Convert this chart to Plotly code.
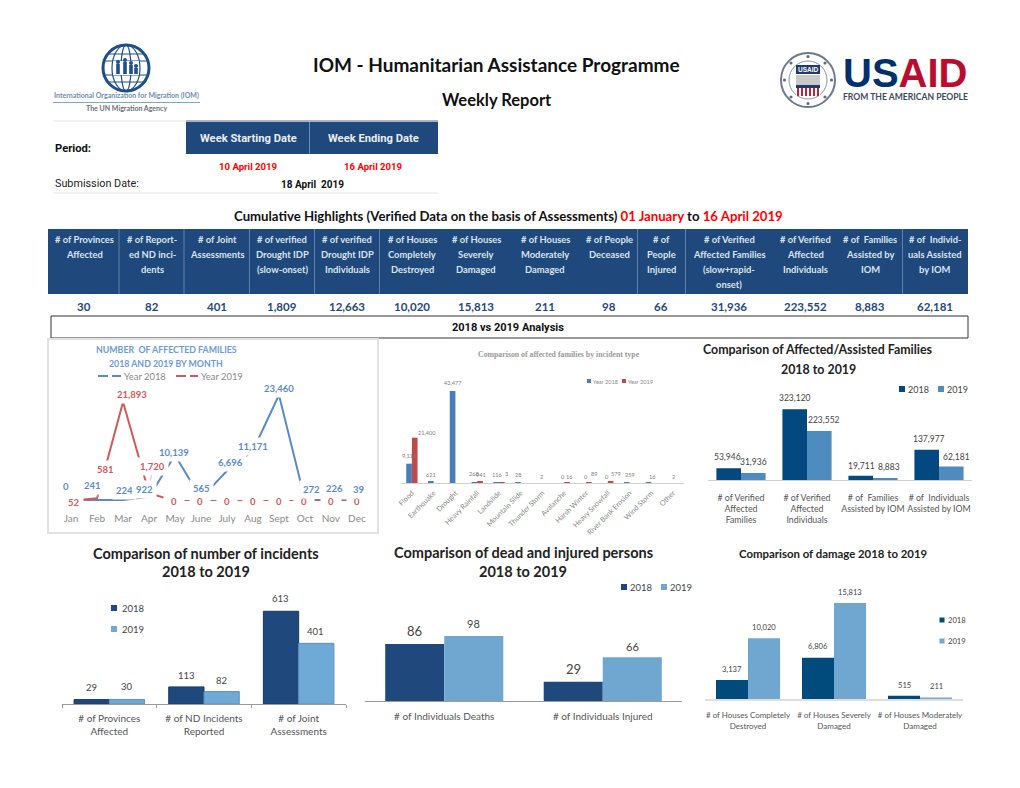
import plotly.graph_objects as go

W, H = 1020, 788
SANS = "Lato"
NARROW = "Roboto"
ARIAL = "Liberation Sans"
SERIF = "Liberation Serif"

# ---------- data ----------
highlight_headers = [
    "# of Provinces|Affected", "# of Report-|ed ND inci-|dents", "# of Joint|Assessments",
    "# of verified|Drought IDP|(slow-onset)", "# of verified|Drought IDP|Individuals",
    "# of Houses|Completely|Destroyed", "# of Houses|Severely|Damaged",
    "# of Houses|Moderately|Damaged", "# of People|Deceased", "# of|People|Injured",
    "# of Verified|Affected Families|(slow+rapid-|onset)", "# of Verified|Affected|Individuals",
    "# of  Families|Assisted by|IOM", "# of  Individ-|uals Assisted|by IOM",
]
highlight_values = ["30", "82", "401", "1,809", "12,663", "10,020", "15,813", "211", "98", "66",
                    "31,936", "223,552", "8,883", "62,181"]

months = ["Jan", "Feb", "Mar", "Apr", "May", "June", "July", "Aug", "Sept", "Oct", "Nov", "Dec"]
month_2018 = [0, 241, 224, 922, 10139, 565, 6696, 11171, 23460, 272, 226, 39]
month_2019 = [52, 581, 21893, 1720, 0, 0, 0, 0, 0, 0, 0, 0]

incident_types = ["Flood", "Earthquake", "Drought", "Heavy Rainfall", "Landslide", "Mountain Slide",
                  "Thunder Storm", "Avalanche", "Harsh Winter", "Heavy Snowfall",
                  "River Bank Erosion", "Wind Storm", "Other"]
type_2018 = [9116, 621, 43477, 268, 116, 28, 2, 0, 0, 0, 259, 16, 2]
type_2019 = [21400, 0, 0, 941, 3, 0, 0, 16, 89, 579, 0, 0, 0]

family_cats = ["# of Verified<br>Affected<br>Families", "# of Verified<br>Affected<br>Individuals",
               "# of  Families<br>Assisted by IOM", "# of  Individuals<br>Assisted by IOM"]
family_2018 = [53946, 323120, 19711, 137977]
family_2019 = [31936, 223552, 8883, 62181]

incident_cats = ["# of Provinces<br>Affected", "# of ND Incidents<br>Reported", "# of Joint<br>Assessments"]
incident_2018 = [29, 113, 613]
incident_2019 = [30, 82, 401]

people_cats = ["# of Individuals Deaths", "# of Individuals Injured"]
people_2018 = [86, 29]
people_2019 = [98, 66]

damage_cats = ["# of Houses Completely<br>Destroyed", "# of Houses Severely<br>Damaged",
               "# of Houses Moderately<br>Damaged"]
damage_2018 = [3137, 6806, 515]
damage_2019 = [10020, 15813, 211]

# ---------- pixel helpers ----------
px = lambda x: x / W
py = lambda y: 1 - y / H
shapes, annots = [], []


def text(x, y, s, size=11, color="#000", font=SANS, anchor="center", **kw):
    annots.append(dict(xref="paper", yref="paper", x=px(x), y=py(y), text=s, showarrow=False,
                       xanchor=anchor, yanchor="middle", font=dict(family=font, size=size, color=color),
                       borderpad=0, **kw))


def rect(x0, y0, x1, y1, fill=None, line=None, lw=1):
    shapes.append(dict(type="rect", xref="paper", yref="paper", x0=px(x0), x1=px(x1), y0=py(y0), y1=py(y1),
                       fillcolor=fill or "rgba(0,0,0,0)", line=dict(color=line or "rgba(0,0,0,0)", width=lw if line else 0)))


def seg(x0, y0, x1, y1, color="#000", lw=1):
    shapes.append(dict(type="line", xref="paper", yref="paper", x0=px(x0), x1=px(x1), y0=py(y0), y1=py(y1),
                       line=dict(color=color, width=lw)))


def circle(cx, cy, rx, ry=None, fill=None, line=None, lw=1):
    ry = rx if ry is None else ry
    shapes.append(dict(type="circle", xref="paper", yref="paper", x0=px(cx - rx), x1=px(cx + rx),
                       y0=py(cy + ry), y1=py(cy - ry), fillcolor=fill or "rgba(0,0,0,0)",
                       line=dict(color=line or "rgba(0,0,0,0)", width=lw if line else 0)))


fig = go.Figure()
layout_axes = {}
GEOM = {}


def add_axes(n, x0, x1, y0, y1, ymax, xcfg):
    """y0 = pixel row of the baseline, y1 = pixel row of the axis top."""
    suf = "" if n == 1 else str(n)
    GEOM[n] = (x0, x1, y0, y1, ymax, suf)
    xcfg.setdefault("tickangle", 0)
    layout_axes["xaxis" + suf] = dict(domain=[px(x0), px(x1)], anchor="y" + suf, type="category",
                                      fixedrange=True, showgrid=False, zeroline=False, automargin=False, **xcfg)
    layout_axes["yaxis" + suf] = dict(domain=[py(y0), py(y1)], anchor="x" + suf, range=[0, ymax],
                                      visible=False, fixedrange=True, zeroline=False, showgrid=False)


def bar_label(n, cats, i, v, tx, ty, s, size=10, color="#444", font=SANS):
    x0, x1, y0, y1, ymax, suf = GEOM[n]
    cx = x0 + (x1 - x0) * (i + .5) / len(cats)
    cy = y0 - (y0 - y1) * v / ymax
    annots.append(dict(xref="x" + suf, yref="y" + suf, x=cats[i], y=v, text=s, showarrow=False,
                       xshift=tx - cx, yshift=cy - ty, xanchor="center", yanchor="middle",
                       font=dict(family=font, size=size, color=color), borderpad=0))


def swatch(x, y, s, color, size=7, tsize=11, tcolor="#444", font=SANS, gap=5):
    rect(x - size / 2, y - size / 2, x + size / 2, y + size / 2, fill=color)
    text(x + gap, y, s, size=tsize, color=tcolor, font=font, anchor="left")


def bars(n, cats, a, b, c1, c2, line1=None, line2=None):
    suf = "" if n == 1 else str(n)
    for nm, v, c, ln in (("2018", a, c1, line1), ("2019", b, c2, line2)):
        fig.add_trace(go.Bar(x=cats, y=v, name=nm, xaxis="x" + suf, yaxis="y" + suf, showlegend=False,
                             marker=dict(color=c, line=dict(color=ln or c, width=1 if ln else 0))))


# ---------- page header ----------
text(496, 64, "<b>IOM - Humanitarian Assistance Programme</b>", size=19, color="#111")
text(496.5, 100, "<b>Weekly Report</b>", size=16.5, color="#111")

seg(53, 121, 186, 121, "#e6e4dc", 1)
rect(186, 122, 438, 154, fill="#1F497D")
seg(186, 121, 438, 121, "#8c9cb0", 1.5)
seg(309.5, 122, 309.5, 154, "#6f8fb5", 1)
text(248, 138, "<b>Week Starting Date</b>", size=11.2, color="#E8EDF3", font=NARROW)
text(373, 138, "<b>Week Ending Date</b>", size=11.2, color="#E8EDF3", font=NARROW)
text(54, 148, "<b>Period:</b>", size=11.2, color="#111", font=NARROW, anchor="left")
text(248, 166, "<b>10 April 2019</b>", size=9.6, color="#FF0000", font=NARROW)
text(373, 166, "<b>16 April 2019</b>", size=9.6, color="#FF0000", font=NARROW)
text(54, 183, "Submission Date:", size=10.8, color="#222", font=NARROW, anchor="left")
text(312, 184, "<b>18 April  2019</b>", size=10, color="#111", font=NARROW)
seg(53, 193, 438, 193, "#e6e4dc", 1)

text(508, 216, "<b>Cumulative Highlights (Verified Data on the basis of Assessments) "
               "<span style='color:#FF0000'>01 January</span> to "
               "<span style='color:#FF0000'>16 April 2019</span></b>", size=13.2, color="#111")

# ---------- highlights table ----------
rect(48, 229, 968, 294, fill="#1F497D")
for sx in (119, 184, 249.5, 314.5, 379.5, 637.5, 685.5, 902.5):
    seg(sx, 229, sx, 294, "#5f82ab", 1)
col_x = [84, 152, 217, 282, 347, 412, 476, 545, 609, 661, 729, 805, 870, 935]
for cx, head, val in zip(col_x, highlight_headers, highlight_values):
    for j, part in enumerate(head.split("|")):
        text(cx, 239.5 + 15 * j, "<b>" + part + "</b>", size=9.4, color="#DCE3EC")
    text(cx, 306, "<b>" + val + "</b>", size=11.5, color="#1F497D")

rect(51, 316, 968, 338, fill="#fff", line="#333", lw=1)
text(508, 327, "<b>2018 vs 2019 Analysis</b>", size=11, color="#111", font=NARROW)

# ---------- IOM logo ----------
BL = "#1F4E8C"
circle(126, 68, 23, line=BL, lw=3)
circle(126, 68, 14, 23, line=BL, lw=1.2)
circle(126, 68, 5, 23, line=BL, lw=1.2)
for yy, half in ((54, 18), (61, 22), (75, 22), (82, 18)):
    seg(126 - half, yy, 126 + half, yy, BL, 1.2)
rect(113, 61, 139, 75, fill="#ffffff")
for cx, top, hgt in ((118, 62, 12), (125, 60, 14), (131, 63, 11), (136, 66, 8)):
    circle(cx, top, 2, fill=BL)
    rect(cx - 1.8, top + 2, cx + 1.8, top + hgt, fill=BL)
text(126.5, 95, "<b>International Organization for Migration (IOM)</b>", size=7, color="#6F8DB0")
seg(53, 102.5, 200, 102.5, "#7FA6CF", 1)
text(126, 108, "<b>The UN Migration Agency</b>", size=7, color="#6a6f78")

# ---------- USAID logo ----------
circle(808, 80, 27, fill="#fff", line="#6c7a8c", lw=2)
circle(808, 80, 19, fill="#fff", line="#8a94a3", lw=1)
for ang_x, ang_y in ((808, 56.5), (808, 103.5), (784.5, 80), (831.5, 80), (791, 63), (825, 63), (791, 97), (825, 97)):
    circle(ang_x, ang_y, 1.6, fill="#5d6b80")
rect(796, 65, 820, 74, fill="#1F3A6E")
text(808, 69.5, "<b>USAID</b>", size=6.5, color="#fff", font=ARIAL)
rect(796, 75, 820, 86, fill="#c9c9c9")
rect(796, 87, 820, 96, fill="#fff")
for sx in (797, 801, 805, 809, 813, 817):
    rect(sx, 87, sx + 2, 96, fill="#B8253A")
rect(796, 85, 820, 88, fill="#1F3A6E")
text(841.5, 73, "<b><span style='color:#002F6C'>US</span><span style='color:#BA0C2F'>AID</span></b>",
     size=40, font=ARIAL, anchor="left")
text(905, 97, "<b>FROM THE AMERICAN PEOPLE</b>", size=8.6, color="#3d4a5e")

# ---------- chart 1: line by month ----------
rect(48, 339, 378, 533, line="#e2e2e2", lw=2)
add_axes(1, 55, 369, 501, 379, 27000,
         dict(showline=False, ticks="", tickfont=dict(family=SANS, size=10, color="#8a8a8a"), ticklabelstandoff=10,
              categoryorder="array", categoryarray=months))
C18, C19 = "#5B8BC6", "#CF5A5A"
for nm, vals, col in (("Year 2018", month_2018, C18), ("Year 2019", month_2019, C19)):
    fig.add_trace(go.Scatter(x=months, y=vals, name=nm, mode="lines", line=dict(color=col, width=2),
                             xaxis="x", yaxis="y", showlegend=False))
text(166, 350, "<b>NUMBER  OF AFFECTED FAMILIES</b>", size=8.8, color="#6C9BD6")
text(166, 364, "<b>2018 AND 2019 BY MONTH</b>", size=8.8, color="#6C9BD6")
seg(98, 376, 108, 376, C18, 2); seg(112, 376, 121, 376, C18, 2)
text(123, 376, "Year 2018", size=9.4, color="#8a8a8a", anchor="left")
seg(176, 376, 186, 376, C19, 2); seg(190, 376, 198, 376, C19, 2)
text(200, 376, "Year 2019", size=9.4, color="#8a8a8a", anchor="left")

pos_2018 = [(63, 486), (90, 486), (122, 490), (142, 490), (172, 452), (199, 488), (229, 463), (251, 447),
            (277, 388), (310, 490), (333, 488), (358, 490)]
pos_2019 = [(71, 502), (103, 470), (129, 394), (150, 466), (172, 501), (198, 501), (225, 501), (251, 501),
            (277, 501), (303, 501), (330, 501), (356, 501)]


def line_label(i, v, tx, ty, col, leader=False):
    x0, x1, y0, y1, ymax, suf = GEOM[1]
    cx = x0 + (x1 - x0) * (i + .5) / 12
    cy = y0 - (y0 - y1) * v / ymax
    a = dict(xref="x", yref="y", x=months[i], y=v, text=f"<b>{v:,}</b>", xanchor="center", yanchor="middle",
             font=dict(family=SANS, size=9.5, color=col), bgcolor="#fff", borderpad=7 if v == 0 else 3)
    if leader:
        a.update(showarrow=True, arrowhead=0, arrowwidth=1, arrowcolor="#c4c4c4", ax=tx - cx, ay=ty - cy, standoff=2)
    else:
        a.update(showarrow=False, xshift=tx - cx, yshift=cy - ty)
    annots.append(a)


for i, (v, (tx, ty)) in enumerate(zip(month_2018, pos_2018)):
    if v != 0:
        continue
    line_label(i, v, tx, ty, "#5B8BC6")
for i, (v, (tx, ty)) in enumerate(zip(month_2019, pos_2019)):
    line_label(i, v, tx, ty, "#CF5A5A", leader=i in (1, 3))
for i, (v, (tx, ty)) in enumerate(zip(month_2018, pos_2018)):
    if v != 0:
        line_label(i, v, tx, ty, "#5B8BC6")

# ---------- chart 2: by incident type ----------
add_axes(2, 401, 684, 483, 356, 60000,
         dict(showline=True, linecolor="#d0d0d0", linewidth=1, ticks="", tickangle=-45,
              tickfont=dict(family=SANS, size=7.2, color="#8a8a8a"), ticklabelstandoff=2,
              categoryorder="array", categoryarray=incident_types))
fig.add_trace(go.Bar(x=incident_types, y=type_2018, name="Year 2018", xaxis="x2", yaxis="y2", showlegend=False,
                     width=.26, offset=-.26, marker=dict(color="#4A7EBB", line=dict(width=0))))
fig.add_trace(go.Bar(x=incident_types, y=type_2019, name="Year 2019", xaxis="x2", yaxis="y2", showlegend=False,
                     width=.26, offset=0, marker=dict(color="#BE4B48", line=dict(width=0))))
text(559, 354, "<b>Comparison of affected families by incident type</b>", size=7.8, color="#9a9a9a", font=SERIF)
swatch(589, 381, "Year 2018", "#4A7EBB", size=4, tsize=5.6, tcolor="#888", gap=3)
swatch(624, 381, "Year 2019", "#BE4B48", size=4, tsize=5.6, tcolor="#888", gap=3)
type_labels = [(0, 9116, 409, 456, "9,116"), (0, 21400, 427, 433, "21,400"), (1, 621, 431, 474, "621"),
               (2, 43477, 453, 383, "43,477"), (3, 268, 474, 474, "268"), (3, 941, 481, 474, "941"),
               (4, 116, 497, 475, "116"), (4, 3, 507, 474, "3"), (5, 28, 519, 475, "28"), (6, 2, 541, 476, "2"),
               (7, 0, 563, 476, "0"), (7, 16, 569, 476, "16"), (8, 0, 586, 476, "0"), (8, 89, 594, 474, "89"),
               (9, 0, 607, 476, "0"), (9, 579, 616, 474, "579"), (10, 259, 630, 475, "259"),
               (11, 16, 652, 476, "16"), (12, 2, 673, 476, "2")]
for i, v, tx, ty, s in type_labels:
    bar_label(2, incident_types, i, v, tx, ty, s, size=5.6, color="#808080")

# ---------- chart 3: affected / assisted ----------
add_axes(3, 708, 972, 480, 392.5, 400000,
         dict(showline=True, linecolor="#cfcfcf", linewidth=1, ticks="",
              tickfont=dict(family=SANS, size=8.8, color="#555"), ticklabelstandoff=9,
              categoryorder="array", categoryarray=family_cats))
bars(3, family_cats, family_2018, family_2019, "#03487F", "#4E8CC0")
text(818, 350, "<b>Comparison of Affected/Assisted Families</b>", size=12.4, color="#222")
text(818, 369, "<b>2018 to 2019</b>", size=12.4, color="#222")
swatch(902, 389, "2018", "#03487F", size=6, tsize=9, tcolor="#444", gap=5)
swatch(941, 389, "2019", "#4E8CC0", size=6, tsize=9, tcolor="#444", gap=5)
for i, (v, (tx, ty)) in enumerate(zip(family_2018, [(727, 457), (795, 398), (861, 466), (929, 439)])):
    bar_label(3, family_cats, i, v, tx, ty, f"{v:,}", size=8.5, color="#444")
for i, (v, (tx, ty)) in enumerate(zip(family_2019, [(753, 462), (824, 420), (889, 467), (956, 457)])):
    bar_label(3, family_cats, i, v, tx, ty, f"{v:,}", size=8.5, color="#444")

# ---------- chart 4: incidents ----------
add_axes(4, 62, 346, 704, 583, 800,
         dict(showline=True, linecolor="#9a9a9a", linewidth=1, ticks="outside", ticklen=3, tickcolor="#9a9a9a",
              tickson="boundaries", tickfont=dict(family=SANS, size=10, color="#555"), ticklabelstandoff=5,
              categoryorder="array", categoryarray=incident_cats))
bars(4, incident_cats, incident_2018, incident_2019, "#1F497D", "#6FA9D6", "#163A66", "#5A94C2")
text(206, 553, "<b>Comparison of number of incidents</b>", size=14.5, color="#222")
text(206, 571, "<b>2018 to 2019</b>", size=14.5, color="#222")
swatch(114, 608, "2018", "#1F497D", size=6, tsize=9.5, tcolor="#444", gap=7)
swatch(114, 629, "2019", "#6FA9D6", size=6, tsize=9.5, tcolor="#444", gap=7)
for i, (v, (tx, ty)) in enumerate(zip(incident_2018, [(92, 688), (186, 675), (280, 599)])):
    bar_label(4, incident_cats, i, v, tx, ty, str(v), size=9.5, color="#444")
for i, (v, (tx, ty)) in enumerate(zip(incident_2019, [(127, 687), (221, 680), (315, 631)])):
    bar_label(4, incident_cats, i, v, tx, ty, str(v), size=9.5, color="#444")

# ---------- chart 5: dead and injured ----------
add_axes(5, 365, 682, 701, 621.4, 120,
         dict(showline=True, linecolor="#9a9a9a", linewidth=1, ticks="",
              tickfont=dict(family=SANS, size=10, color="#555"), ticklabelstandoff=6,
              categoryorder="array", categoryarray=people_cats))
bars(5, people_cats, people_2018, people_2019, "#1F497D", "#70A7D1")
text(523, 552, "<b>Comparison of dead and injured persons</b>", size=14.5, color="#222")
text(523, 571, "<b>2018 to 2019</b>", size=14.5, color="#222")
swatch(624, 587, "2018", "#1F497D", size=6, tsize=9.5, tcolor="#444", gap=5)
swatch(664, 587, "2019", "#70A7D1", size=6, tsize=9.5, tcolor="#444", gap=5)
for i, (v, (tx, ty), sz) in enumerate(zip(people_2018, [(414, 631), (573, 669)], [13, 13])):
    bar_label(5, people_cats, i, v, tx, ty, str(v), size=sz, color="#444")
for i, (v, (tx, ty), sz) in enumerate(zip(people_2019, [(473, 624), (632, 646)], [11, 11])):
    bar_label(5, people_cats, i, v, tx, ty, str(v), size=sz, color="#444")

# ---------- chart 6: damage ----------
add_axes(6, 705, 963, 699, 577.6, 20000,
         dict(showline=True, linecolor="#dedede", linewidth=1.5, ticks="",
              tickfont=dict(family=SANS, size=8, color="#555"), ticklabelstandoff=8,
              categoryorder="array", categoryarray=damage_cats))
bars(6, damage_cats, damage_2018, damage_2019, "#004B7C", "#70A7D1")
text(833, 553, "<b>Comparison of damage 2018 to 2019</b>", size=11.4, color="#222")
swatch(942, 620, "2018", "#004B7C", size=5, tsize=7.6, tcolor="#444", gap=5)
swatch(942, 641, "2019", "#70A7D1", size=5, tsize=7.6, tcolor="#444", gap=5)
for i, (v, (tx, ty)) in enumerate(zip(damage_2018, [(732, 669), (818, 646), (904, 685)])):
    bar_label(6, damage_cats, i, v, tx, ty, f"{v:,}", size=7.6, color="#444")
for i, (v, (tx, ty)) in enumerate(zip(damage_2019, [(764, 627), (850, 592), (936, 686)])):
    bar_label(6, damage_cats, i, v, tx, ty, f"{v:,}", size=7.6, color="#444")

fig.update_layout(width=W, height=H, margin=dict(l=0, r=0, t=0, b=0, autoexpand=False), paper_bgcolor="#fff",
                  plot_bgcolor="#fff", barmode="group", bargap=.255, bargroupgap=0, shapes=shapes,
                  annotations=annots, showlegend=False, hovermode=False, **layout_axes)
fig.write_html("out.html", config=dict(displayModeBar=False),
               post_script="document.body.style.margin='0';document.body.style.overflow='hidden';")
